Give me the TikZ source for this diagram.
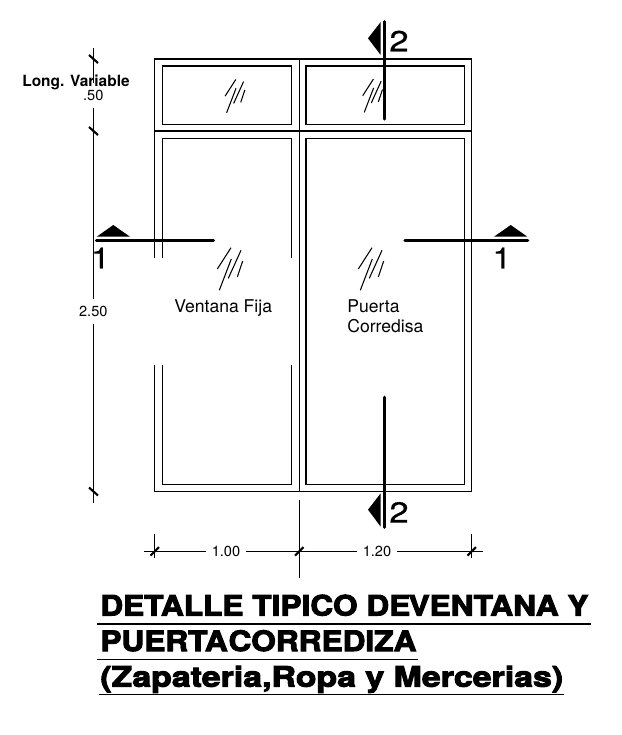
\documentclass[tikz,border=0pt]{standalone}
\usepackage{fontspec}
\setmainfont{TeX Gyre Heros}
\newfontfamily\markfont[FakeStretch=1.2,FakeBold=0.6]{TeX Gyre Heros}
\newfontfamily\titlefont[BoldFeatures={FakeStretch=1.125,FakeBold=3.5}]{TeX Gyre Heros}
\newfontfamily\titlewide[BoldFeatures={FakeStretch=1.205,FakeBold=3.5}]{TeX Gyre Heros}
\usetikzlibrary{calc, positioning}

\begin{document}
\begin{tikzpicture}[
    x=0.2mm,
    y=-0.2mm,
    line cap=butt,
    thin_line/.style={line width=0.7pt},
    cut_line/.style={line width=1.9pt, line cap=round},
    dim_tick/.style={line width=1.2pt},
    dim_label/.style={font=\fontsize{8.3}{10}\selectfont, inner xsep=3pt, inner ysep=3.9pt},
    room_label/.style={font=\fontsize{10}{11.3}\selectfont, inner sep=0pt, align=left},
    mark_label/.style={font=\fontsize{16.5}{18}\markfont, inner sep=0pt},
    title_label/.style={font=\fontsize{16}{18}\titlefont\bfseries, inner sep=0pt, anchor=base west}
]

    % Glass hatch
    \tikzset{
        pics/glass/.style={
            code={
                \draw[line width=0.6pt] (1,-22.3) -- (-12.7,-1);
                \draw[line width=0.6pt] (1.3,-11) -- (-10.7,20.3);
                \draw[line width=0.6pt] (11,-19.7) -- (-1.7,8.3);
                \draw[line width=0.6pt] (12.7,-9) -- (7.3,7);
            }
        }
    }

    \useasboundingbox (0,0) rectangle (622,735);

    % Frame
    \draw[thin_line] (154.5,258) -- (154.5,59) -- (471.7,59) -- (471.7,491.3) -- (154.5,491.3) -- (154.5,365);
    \draw[thin_line] (299.3,59) -- (299.3,491.3);
    \draw[thin_line] (154.5,131) -- (471.7,131);
    \draw[thin_line] (162.3,66) rectangle (291.7,124.5);
    \draw[thin_line] (306,66) rectangle (464.7,124.5);
    \draw[thin_line] (306,138.3) rectangle (464.7,484.3);
    \draw[thin_line] (162.3,258) -- (162.3,138.3) -- (291.7,138.3) -- (291.7,258);
    \draw[thin_line] (162.3,365) -- (162.3,484.3) -- (291.7,484.3) -- (291.7,365);

    % Glass
    \pic[scale=0.78] at (235,96.9) {glass};
    \pic[scale=0.78] at (372.6,96.5) {glass};
    \pic at (230,270) {glass};
    \pic at (371,270) {glass};

    % Labels
    \node[room_label, anchor=base west] (fija) at (174,312.3) {Ventana Fija};
    \node[room_label, anchor=north west] (corredisa) at (347,299) {Puerta\\Corredisa};
    \node[dim_label] (dim_50) at (93.3,95.7) {.50};
    \node[dim_label] (dim_250) at (93.3,311.3) {2.50};
    \node[dim_label] (dim_100) at (226,551.3) {1.00};
    \node[dim_label] (dim_120) at (377,551.3) {1.20};
    \node[font=\fontsize{8.8}{10}\selectfont\bfseries, inner sep=0pt] (long) at (76,82) {Long. Variable};

    % Vertical dimension
    \coordinate (v_top) at (93.3,48);
    \coordinate (v_bot) at (93.3,502.7);
    \draw[thin_line] (v_top) -- (dim_50);
    \draw[thin_line] (dim_50) -- (dim_250);
    \draw[thin_line] (dim_250) -- (v_bot);
    \draw[dim_tick] (89,55) -- (98,63);
    \draw[dim_tick] (89,127) -- (98,135);
    \draw[dim_tick] (89,487.5) -- (98,495.5);

    % Horizontal dimension
    \coordinate (h_left) at (144,551.3);
    \coordinate (h_right) at (482.7,551.3);
    \draw[thin_line] (h_left) -- (dim_100);
    \draw[thin_line] (dim_100) -- (dim_120);
    \draw[thin_line] (dim_120) -- (h_right);
    \draw[thin_line] (154.5,534) -- (154.5,558);
    \draw[thin_line] (299.3,500) -- (299.3,577.7);
    \draw[thin_line] (471.7,534) -- (471.7,558);
    \draw[dim_tick] (150.5,555.5) -- (159,547);
    \draw[dim_tick] (295,555.5) -- (303.5,547);
    \draw[dim_tick] (467.5,555.5) -- (476,547);

    % Section 1
    \coordinate (cut1a) at (96.5,240.3);
    \coordinate (cut1b) at (213.5,240.3);
    \coordinate (cut1c) at (405,240.3);
    \coordinate (cut1d) at (527.7,240.3);
    \draw[cut_line] (cut1a) -- (cut1b);
    \draw[cut_line] (cut1c) -- (cut1d);
    \fill (96.7,236.7) -- (113.3,225) -- (130,236.7) -- cycle;
    \fill (494,236.7) -- (510.7,225) -- (527.4,236.7) -- cycle;
    \node[mark_label] (one_l) at (100.5,258) {1};
    \node[mark_label] (one_r) at (502,258) {1};

    % Section 2
    \coordinate (cut2a) at (384.3,21.7);
    \coordinate (cut2b) at (384.3,119);
    \coordinate (cut2c) at (384.3,397.3);
    \coordinate (cut2d) at (384.3,527.3);
    \draw[cut_line] (cut2a) -- (cut2b);
    \draw[cut_line] (cut2c) -- (cut2d);
    \fill (380.7,22) -- (368,38.3) -- (380.7,55) -- cycle;
    \fill (380.7,493.3) -- (368,509.7) -- (380.7,526.7) -- cycle;
    \node[mark_label] (two_t) at (399,41) {2};
    \node[mark_label] (two_b) at (399,512.3) {2};

    % Title
    \node[title_label] (title_a) at (100,615.5) {DETALLE TIPICO DE\kern-1pt VENTANA Y};
    \node[title_label] (title_b) at (100,651) {PUERTA\kern0.5pt CORREDIZA};
    \node[title_label, font=\fontsize{16}{18}\titlewide\bfseries] (title_c) at (100,686.7) {(Zapateria,Ropa y Mercerias)};
    \draw[thin_line] (97,624) -- (591,624);
    \draw[thin_line] (97,659.3) -- (418,659.3);
    \draw[thin_line] (99,694.3) -- (564,694.3);

\end{tikzpicture}
\end{document}
